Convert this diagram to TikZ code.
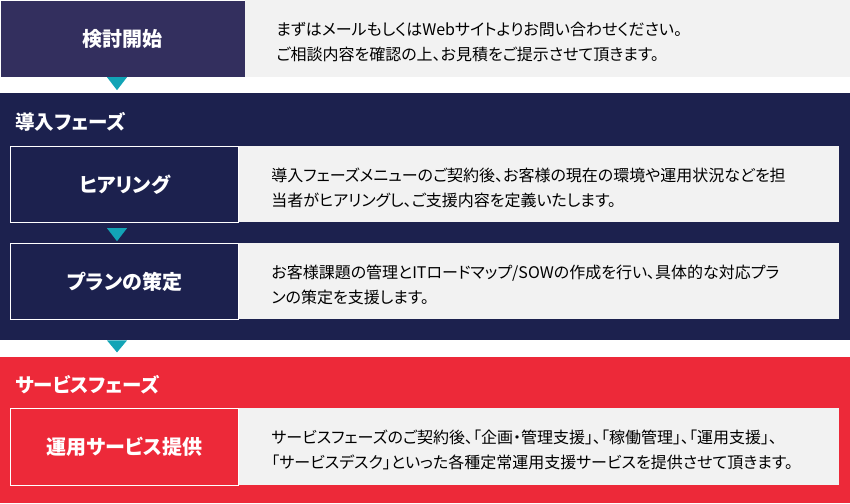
\documentclass[tikz,border=0pt]{standalone}
\usepackage{fontspec}
\setmainfont{Noto Sans CJK JP}[RawFeature=+palt]
\usetikzlibrary{calc}
\definecolor{startc}{RGB}{51,47,94}
\definecolor{introc}{RGB}{28,33,78}
\definecolor{servicec}{RGB}{237,41,57}
\definecolor{descc}{RGB}{242,242,242}
\definecolor{markc}{RGB}{18,164,182}

\begin{document}
\begin{tikzpicture}[x=1pt,y=-1pt,
		stepbox/.style={draw=white,line width=1.2pt,minimum width=228pt,minimum height=76pt,anchor=north west,inner sep=0pt,text=white,font=\bfseries\fontsize{20}{24}\selectfont},
		descbox/.style={fill=descc,minimum height=76pt,anchor=north west,inner xsep=32pt,inner ysep=0pt,align=left,font=\fontsize{16}{25}\selectfont,execute at end node={\endgraf\vspace*{-7pt}}},
		phasebox/.style={minimum width=850pt,anchor=north west,inner sep=0pt},
		phase/.style={anchor=west,inner sep=0pt,text=white,font=\bfseries\fontsize{19.5}{23}\selectfont},
		markc/.style={fill=markc}]
		\def\mw{20}
		\def\mh{13}
		\useasboundingbox (0,0) rectangle (850,503);
		\node [stepbox,draw=none,fill=startc,minimum width=244pt] (start) at (0,0) {検討開始};
		\node [descbox,minimum width=606pt,minimum height=77pt,text width=544pt,inner xsep=31pt] (starttxt) at (start.north east)
			{まずはメールもしくはWebサイトよりお問い合わせください。\\ご相談内容を確認の上、お見積をご提示させて頂きます。};
		\fill [markc] ($(start.south west)+(107,0)$) -- ++(\mw,0) -- ++(-\mw/2,\mh) -- cycle;

		\node [phasebox,fill=introc,minimum height=247pt] (intro) at (0,93) {};
		\node [phase] (introtitle) at (15,122) {導入フェーズ};
		\node [stepbox,fill=introc] (hearing) at (10,146) {ヒアリング};
		\node [descbox,minimum width=600pt,text width=536pt] (hearingtxt) at (hearing.north east)
			{導入フェーズメニューのご契約後、お客様の現在の環境や運用状況などを担\\当者がヒアリングし、ご支援内容を定義いたします。};
		\fill [markc] ($(hearing.south west)+(97,5)$) -- ++(\mw,0) -- ++(-\mw/2,\mh) -- cycle;
		\node [stepbox,fill=introc] (plan) at (10,243) {プランの策定};
		\node [descbox,minimum width=600pt,text width=536pt] (plantxt) at (plan.north east)
			{お客様課題の管理とITロードマップ/SOWの作成を行い、具体的な対応プラ\\ンの策定を支援します。};
		\fill [markc] ($(intro.south west)+(107,0)$) -- ++(\mw,0) -- ++(-\mw/2,\mh-1) -- cycle;

		\node [phasebox,fill=servicec,minimum height=146pt] (service) at (0,357) {};
		\node [phase] (servicetitle) at (15,385) {サービスフェーズ};
		\node [stepbox,fill=servicec,minimum height=77pt] (operation) at (10,408) {運用サービス提供};
		\node [descbox,minimum width=600pt,minimum height=77pt,text width=536pt] (operationtxt) at (operation.north east)
			{サービスフェーズのご契約後、「企画・管理支援」、「稼働管理」、「運用支援」、\\「サービスデスク」といった各種定常運用支援サービスを提供させて頂きます。};
	\end{tikzpicture}
\end{document}
